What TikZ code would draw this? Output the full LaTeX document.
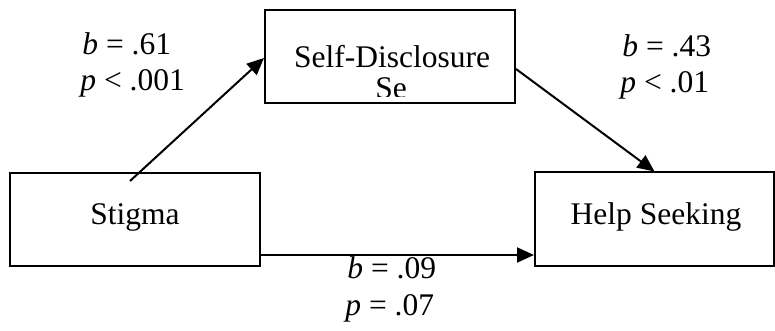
\documentclass[tikz,border=0pt]{standalone}
\usepackage{fontspec}
\setmainfont{Liberation Serif}
\usetikzlibrary{arrows.meta,calc}
\begin{document}
\begin{tikzpicture}[x=0.5pt,y=-0.5pt,
  box/.style={draw,line width=1pt,inner sep=0pt,minimum width=125pt,minimum height=46.5pt},
  txt/.style={inner sep=0pt,font=\fontsize{15.75pt}{18pt}\selectfont},
  arr/.style={line width=1pt,-{Triangle[length=8.5pt,width=7.5pt]}}]
\useasboundingbox (0,0) rectangle (775,331);
% boxes
\node[box] (stigma) at (135,219.5) {};
\node[box] (sd) at (390,56.5) {};
\node[box,minimum width=119.5pt] (help) at (654.5,219) {};
% box texts
\node[txt,anchor=base] (tstigma) at (135,225) {Stigma};
\node[txt,anchor=base] (tsd) at (392,68) {Self-Disclosure};
\begin{scope}
  \clip (266,11) rectangle (514,97);
  \node[txt,anchor=base] (tse) at (391,99) {Se};
\end{scope}
\node[txt,anchor=base] (thelp) at (656,224) {Help Seeking};
% connectors
\coordinate (s1) at ($(stigma.north)+(-5,9)$);
\draw[arr] (s1) -- ($(sd.west)+(0,1.5)$);
\draw[arr] ($(sd.east)+(0,12.5)$) -- (help.north);
\coordinate (hs) at ($(stigma.south east)+(0,-12)$);
\draw[arr] (hs) -- (hs -| help.west);
% labels
\node[txt,anchor=base west] (b1) at (82,55) {\textit{b} = .61};
\node[txt,anchor=base west] (p1) at (80,91) {\textit{p} < .001};
\node[txt,anchor=base west] (b2) at (622,57) {\textit{b} = .43};
\node[txt,anchor=base west] (p2) at (620,93) {\textit{p} < .01};
\node[txt,anchor=base west] (b3) at (347,278) {\textit{b} = .09};
\node[txt,anchor=base west] (p3) at (345,315) {\textit{p} = .07};
\end{tikzpicture}
\end{document}
